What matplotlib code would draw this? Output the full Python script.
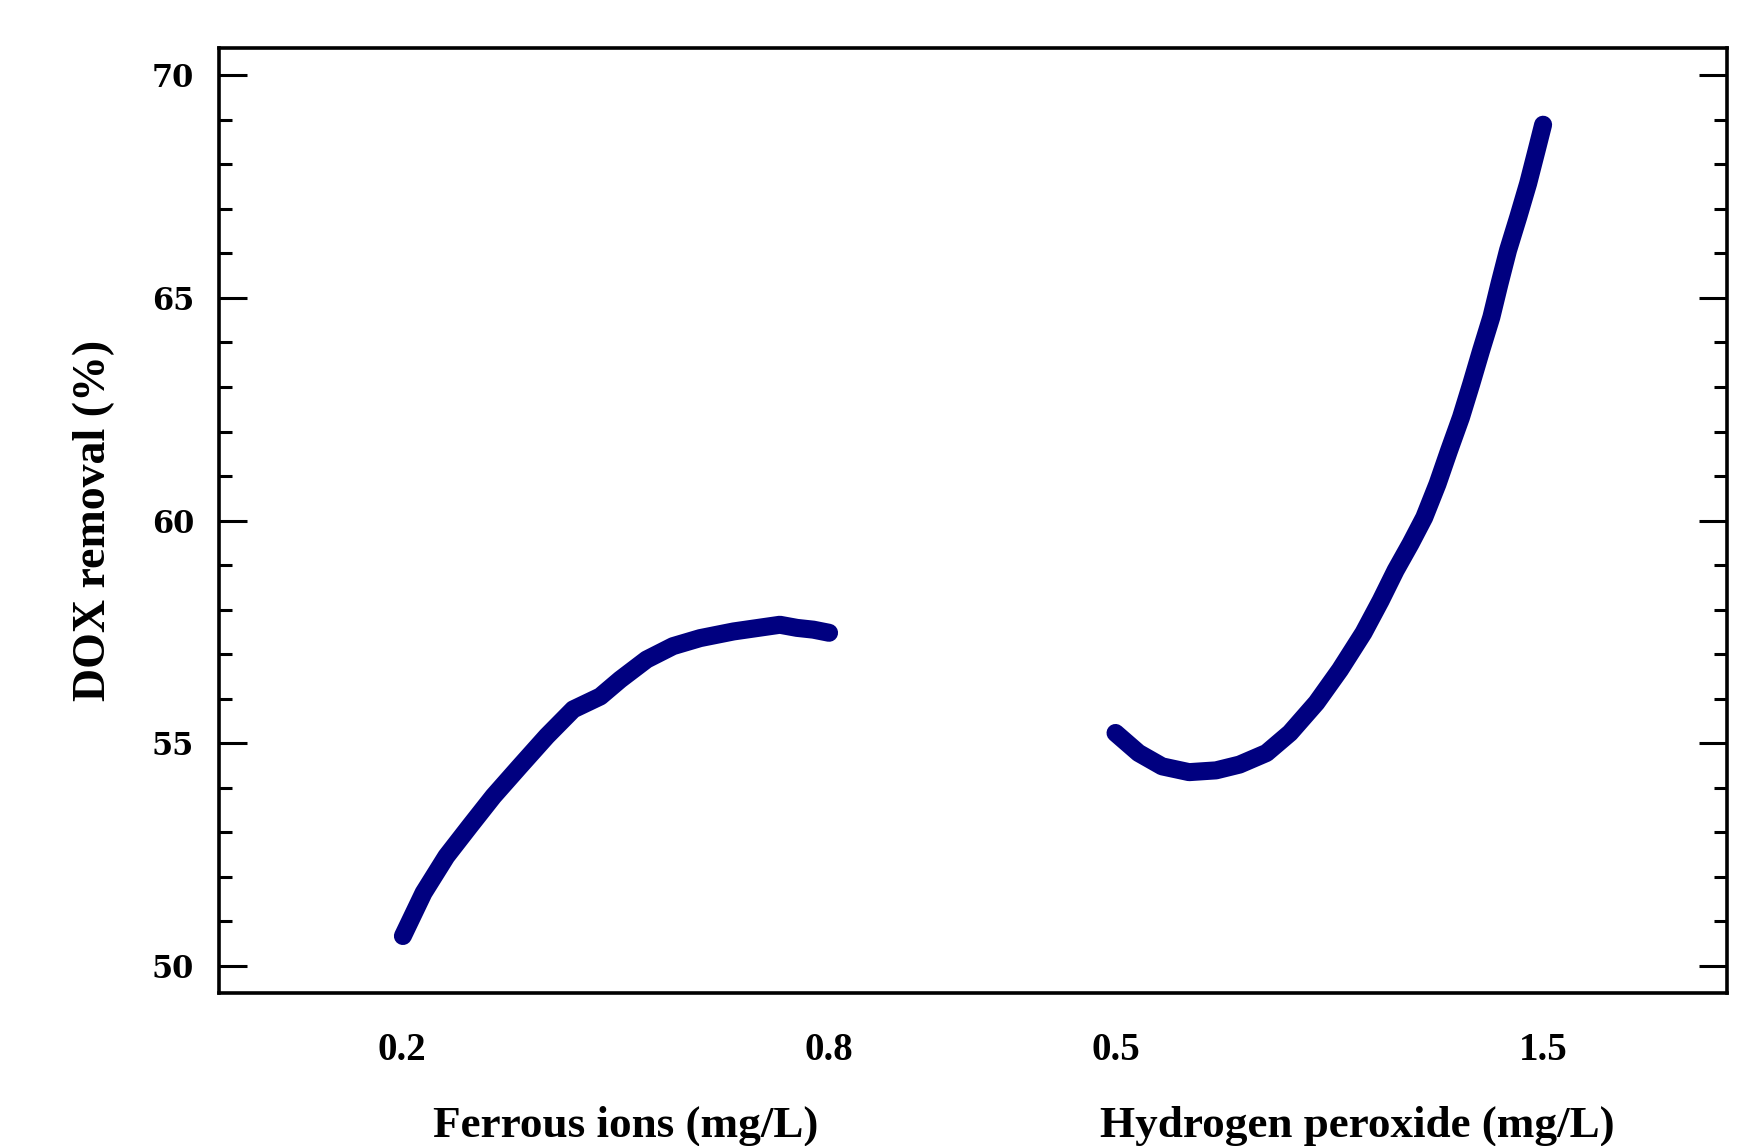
import matplotlib
matplotlib.use('Agg')
import matplotlib.pyplot as plt
import matplotlib.transforms as mtransforms
from matplotlib.ticker import MultipleLocator

# main effects for DOX removal
fe_conc = [0.202, 0.231, 0.263, 0.296, 0.329, 0.366, 0.404, 0.441, 0.479, 0.507,
           0.544, 0.581, 0.619, 0.666, 0.731, 0.755, 0.778, 0.8]
fe_dox = [50.67, 51.64, 52.46, 53.14, 53.81, 54.48, 55.16, 55.76, 56.05, 56.43,
          56.88, 57.18, 57.36, 57.51, 57.66, 57.59, 57.55, 57.48]

h2o2_conc = [0.5, 0.554, 0.609, 0.672, 0.735, 0.79, 0.853, 0.908, 0.97, 1.025,
             1.08, 1.12, 1.155, 1.19, 1.222, 1.253, 1.28, 1.308, 1.332, 1.355,
             1.379, 1.398, 1.418, 1.442, 1.465, 1.485, 1.5]
h2o2_dox = [55.23, 54.78, 54.48, 54.35, 54.39, 54.52, 54.78, 55.23, 55.91, 56.65,
            57.48, 58.2, 58.88, 59.48, 60.07, 60.82, 61.57, 62.32, 63.07, 63.82,
            64.57, 65.32, 66.07, 66.82, 67.57, 68.32, 68.89]

fe_ticks = [0.2, 0.8]
h2o2_ticks = [0.5, 1.5]
fe_label = 'Ferrous ions (mg/L)'
h2o2_label = 'Hydrogen peroxide (mg/L)'

# each factor drawn on its own coded segment (-1..1) on a shared x axis
H2O2_CENTER = 3.34

def fe_x(c):
    return (c - 0.5) / 0.3

def h2o2_x(c):
    return H2O2_CENTER + (c - 1.0) / 0.5

fig = plt.figure(figsize=(17.64, 11.46), dpi=100)
ax = fig.add_axes([0.1241, 0.1335, 0.979 - 0.1241, 0.958 - 0.1335])

line_kw = dict(color='#000080', lw=13, solid_capstyle='round', solid_joinstyle='round')
ax.plot([fe_x(c) for c in fe_conc], fe_dox, **line_kw)
ax.plot([h2o2_x(c) for c in h2o2_conc], h2o2_dox, **line_kw)

ax.set_xlim(-1.854, 5.2)
ax.set_ylim(49.39, 70.61)

# y axis
ax.yaxis.set_major_locator(MultipleLocator(5))
ax.yaxis.set_minor_locator(MultipleLocator(1))
ax.tick_params(axis='y', which='both', direction='in', left=True, right=True, width=2.2)
ax.tick_params(axis='y', which='major', length=20, pad=18)
ax.tick_params(axis='y', which='minor', length=9.5)
for lab in ax.get_yticklabels():
    lab.set_fontfamily('DejaVu Serif')
    lab.set_fontweight('bold')
    lab.set_fontsize(22)

# x axis: two factors
xt = [fe_x(c) for c in fe_ticks] + [h2o2_x(c) for c in h2o2_ticks]
xl = [f'{c:g}' for c in fe_ticks] + [f'{c:g}' for c in h2o2_ticks]
ax.set_xticks(xt)
ax.set_xticklabels(xl, fontfamily='Liberation Serif', fontweight='bold', fontsize=28)
ax.tick_params(axis='x', which='both', length=0, pad=28)

for sp in ax.spines.values():
    sp.set_linewidth(2.6)

trans = mtransforms.blended_transform_factory(ax.transData, ax.transAxes)
ax.text(0.05, -0.141, fe_label, transform=trans, ha='center', va='center',
        fontfamily='Liberation Serif', fontweight='bold', fontsize=32.5)
ax.text(H2O2_CENTER + 0.13, -0.141, h2o2_label, transform=trans, ha='center', va='center',
        fontfamily='Liberation Serif', fontweight='bold', fontsize=32.5)

ax.set_ylabel('DOX removal (%)', fontfamily='Liberation Serif', fontweight='bold', fontsize=33)
ax.yaxis.set_label_coords(-0.069, 0.5)

fig.savefig('out.png', dpi=100)
